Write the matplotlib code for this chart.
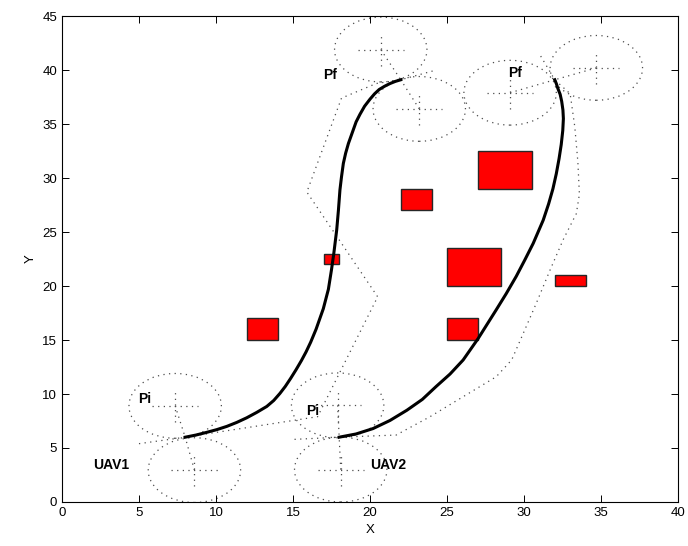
import matplotlib
matplotlib.use("Agg")

import matplotlib.pyplot as plt
from matplotlib.patches import Rectangle, Ellipse

plt.rcParams["font.family"] = ["Liberation Sans", "DejaVu Sans"]

# obstacles (lower-left corner, width, height)
obs_x = [12, 17, 22, 27, 25, 25, 32]
obs_y = [15, 22, 27, 29, 20, 15, 20]
obs_w = [2, 1, 2, 3.5, 3.5, 2, 2]
obs_h = [2, 1, 2, 3.5, 3.5, 2, 1]

# smooth trajectories
uav1_x = [8.0, 8.7, 9.4, 10.05, 10.7, 11.35, 12.0, 12.65, 13.3, 13.75, 14.15, 14.5,
          14.85, 15.2, 15.55, 15.85, 16.15, 16.5, 16.97, 17.3, 17.5, 17.65, 17.84, 17.95,
          18.05, 18.15, 18.27, 18.42, 18.6, 18.9, 19.1, 19.35, 19.65, 20.0, 20.3,
          20.6, 20.95, 21.3, 21.65, 22.0]
uav1_y = [6.0, 6.2, 6.45, 6.7, 7.0, 7.37, 7.8, 8.3, 8.85, 9.4, 10.05, 10.7,
          11.45, 12.25, 13.1, 13.9, 14.8, 16.0, 17.9, 19.7, 21.5, 23.0, 25.2, 27.0,
          28.9, 30.1, 31.35, 32.3, 33.2, 34.4, 35.2, 35.9, 36.65, 37.3, 37.8,
          38.2, 38.5, 38.75, 38.95, 39.1]

uav2_x = [18.0, 19.1, 20.2, 21.3, 22.4, 23.4, 24.3, 25.2, 26.05, 27.03, 28.2, 28.85,
          29.5, 30.05, 30.6, 31.25, 31.6, 31.88, 32.1, 32.28, 32.42, 32.52, 32.56,
          32.53, 32.45, 32.35, 32.2, 32.1, 32.0]
uav2_y = [6.0, 6.3, 6.8, 7.55, 8.5, 9.5, 10.7, 11.85, 13.15, 15.15, 17.8, 19.3,
          20.9, 22.4, 23.95, 26.1, 27.6, 29.0, 30.4, 31.8, 33.1, 34.4, 35.5,
          36.3, 37.1, 37.75, 38.3, 38.75, 39.1]

# dotted guide polylines
guide1_x = [5.0, 8.0, 16.6, 20.5, 15.9, 18.15, 20.4, 22.0, 24.3]
guide1_y = [5.4, 6.0, 7.9, 19.0, 28.7, 37.4, 38.75, 39.1, 40.0]

guide2_x = [15.1, 18.0, 21.7, 23.9, 26.05, 28.2, 29.2, 29.95, 30.8, 31.7, 32.55, 33.4,
            33.6, 33.5, 33.3, 33.0, 32.0, 31.0]
guide2_y = [5.8, 6.0, 6.2, 7.9, 9.75, 11.6, 13.15, 15.6, 18.4, 21.5, 24.3, 26.7,
            28.5, 31.5, 34.75, 37.8, 39.1, 41.5]

# UAV symbols: body point + two rotor centres
body_x = [8.0, 18.0, 22.0, 32.0]
body_y = [6.0, 6.0, 39.1, 39.1]
rotor_a = [(7.35, 8.9), (17.9, 8.95), (20.7, 41.9), (29.1, 37.9)]
rotor_b = [(8.6, 2.95), (18.1, 3.0), (23.2, 36.4), (34.7, 40.2)]
rotor_r = 3.0
arm = 1.5

labels = ["Pi", "Pi", "Pf", "Pf", "UAV1", "UAV2"]
label_x = [5.4, 16.3, 17.4, 29.4, 3.2, 21.15]
label_y = [9.5, 8.4, 39.55, 39.75, 3.45, 3.45]

fig = plt.figure(figsize=(6.88, 5.46), dpi=100)
ax = fig.add_axes([0.0901, 0.0806, 0.8953, 0.890])

dot = dict(color="0.3", lw=0.9, linestyle=(0, (1, 3.5)))

ax.plot(guide1_x, guide1_y, **dot)
ax.plot(guide2_x, guide2_y, **dot)

for i in range(len(body_x)):
    for cx, cy in (rotor_a[i], rotor_b[i]):
        ax.add_patch(Ellipse((cx, cy), 2 * rotor_r, 2 * rotor_r, fill=False,
                             edgecolor="0.3", lw=0.9, linestyle=(0, (1, 3.5))))
        ax.plot([cx - arm, cx + arm], [cy, cy], **dot)
        ax.plot([cx, cx], [cy - arm, cy + arm], **dot)
        ax.plot([cx, body_x[i]], [cy, body_y[i]], **dot)

for x, y, w, h in zip(obs_x, obs_y, obs_w, obs_h):
    ax.add_patch(Rectangle((x, y), w, h, facecolor="#ff0000", edgecolor="0.15", lw=1.0, zorder=3))

ax.plot(uav1_x, uav1_y, color="black", lw=2.2, zorder=4, solid_joinstyle="round")
ax.plot(uav2_x, uav2_y, color="black", lw=2.2, zorder=4, solid_joinstyle="round")

for t, x, y in zip(labels, label_x, label_y):
    ax.text(x, y, t, fontsize=10, fontweight="bold", ha="center", va="center", zorder=5)

ax.set_xlim(0, 40)
ax.set_ylim(0, 45)
ax.set_xticks(range(0, 41, 5))
ax.set_yticks(range(0, 46, 5))
ax.tick_params(direction="in", top=True, right=True, length=5, width=0.7, labelsize=9.5)
for s in ax.spines.values():
    s.set_linewidth(0.8)
ax.set_xlabel("X", fontsize=9.5)
ax.set_ylabel("Y", fontsize=9.5)

fig.savefig("out.png", dpi=100)
